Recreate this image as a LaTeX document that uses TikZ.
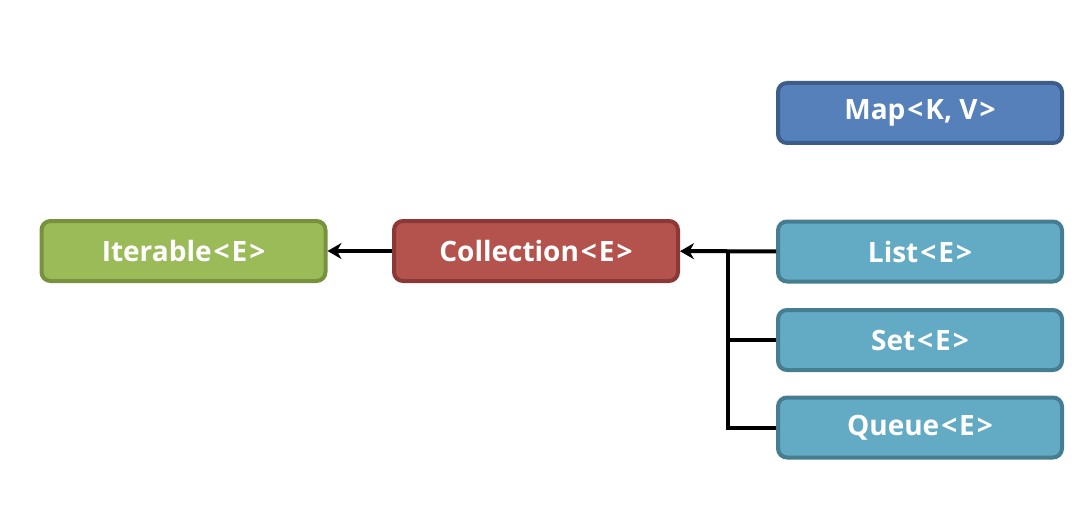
\documentclass[tikz,border=0pt]{standalone}
\usepackage{fontspec}
\setmainfont{Open Sans}
\usetikzlibrary{positioning,arrows.meta}

\definecolor{iterfill}{RGB}{155,187,89}
\definecolor{iterline}{RGB}{118,146,60}
\definecolor{collfill}{RGB}{180,83,77}
\definecolor{collline}{RGB}{140,56,54}
\definecolor{mapfill}{RGB}{86,128,186}
\definecolor{mapline}{RGB}{60,93,138}
\definecolor{subfill}{RGB}{99,170,196}
\definecolor{subline}{RGB}{70,125,145}
\newcommand{\lt}{\kern1pt<\kern1pt}
\newcommand{\gt}{\kern1pt>}

\begin{document}
\begin{tikzpicture}[x=0.5pt,y=-0.5pt,
    ifacebox/.style={draw, rounded corners=4.5pt, line width=2pt,
        minimum width=142pt, minimum height=30pt, inner sep=0pt,
        text=white, font=\fontsize{14}{16}\selectfont\bfseries},
    link/.style={line width=2pt, black}]
    \useasboundingbox (0,0) rectangle (1092,508);
    % interfaces
    \node[ifacebox, fill=iterfill, draw=iterline] (iter) at (183.5,251) {Iterable\lt E\gt};
    \node[ifacebox, fill=collfill, draw=collline] (coll) at (536,251) {Collection\lt E\gt};
    \node[ifacebox, fill=mapfill, draw=mapline] (map) at (920,113) {Map\lt K, V\gt};
    \node[ifacebox, fill=subfill, draw=subline] (list) at (920,251.5) {List\lt E\gt};
    \node[ifacebox, fill=subfill, draw=subline] (set) at (920,340) {Set\lt E\gt};
    \node[ifacebox, fill=subfill, draw=subline] (queue) at (920,427.5) {Queue\lt E\gt};
    \coordinate (junc) at (728,251);
    % inheritance
    \draw[link, -{Stealth[length=7pt,width=8pt]}] (coll) -- (iter);
    \draw[link, -{Stealth[length=7pt,width=8pt]}] (list) -- (coll);
    \draw[link] (queue.west) -| (junc);
    \draw[link] (set.west) -- (set.west -| junc);
\end{tikzpicture}
\end{document}
